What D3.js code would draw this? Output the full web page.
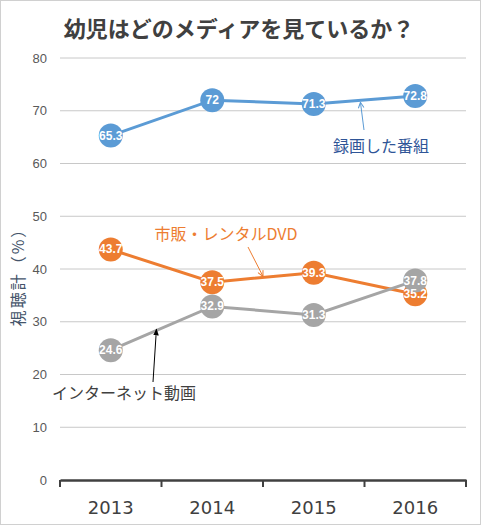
<!DOCTYPE html>
<html>
<head>
<meta charset="utf-8">
<script src="https://cdn.jsdelivr.net/npm/d3@7"></script>
<style>
  body { margin: 0; background: #fff; }
  svg { display: block; font-family: "Noto Sans CJK JP", "Noto Sans", sans-serif; }
</style>
</head>
<body>
<svg id="chart" width="481" height="525"></svg>
<script>
var years = ["2013", "2014", "2015", "2016"];
var recorded = [65.3, 72, 71.3, 72.8];
var dvd = [43.7, 37.5, 39.3, 35.2];
var internet = [24.6, 32.9, 31.3, 37.8];
var yTicks = [0, 10, 20, 30, 40, 50, 60, 70, 80];

var series = [
  { name: "録画した番組", values: recorded, color: "#5B9BD5" },
  { name: "市販・レンタルDVD", values: dvd, color: "#ED7D31" },
  { name: "インターネット動画", values: internet, color: "#A5A5A5" }
];

var svg = d3.select("#chart");
var plotL = 60, plotR = 466, plotT = 58, plotB = 480;

var x = d3.scaleBand().domain(years).range([plotL, plotR]);
var y = d3.scaleLinear().domain([0, 80]).range([plotB, plotT]);
var cx = function (i) { return x(years[i]) + x.bandwidth() / 2; };
// position between two categories, for the callout arrows
var between = function (i, f) { return cx(i) + f * (cx(i + 1) - cx(i)); };

// outer frame
svg.append("rect")
  .attr("x", 0.5).attr("y", 0.5)
  .attr("width", 480).attr("height", 524)
  .attr("fill", "#fff")
  .attr("stroke", "#d0d0d0");

// title
svg.append("text")
  .attr("x", 239).attr("y", 27)
  .attr("text-anchor", "middle")
  .attr("dominant-baseline", "central")
  .attr("font-size", 22)
  .attr("font-weight", "bold")
  .attr("fill", "#404040")
  .text("幼児はどのメディアを見ているか？");

// gridlines
svg.append("g").selectAll("line")
  .data(yTicks.filter(function (d) { return d > 0; }))
  .enter().append("line")
  .attr("x1", plotL).attr("x2", plotR)
  .attr("y1", function (d) { return y(d); })
  .attr("y2", function (d) { return y(d); })
  .attr("stroke", "#c8c8c8")
  .attr("stroke-width", 1);

// y axis labels
svg.append("g").selectAll("text")
  .data(yTicks)
  .enter().append("text")
  .attr("x", 47)
  .attr("y", function (d) { return y(d); })
  .attr("text-anchor", "end")
  .attr("dominant-baseline", "central")
  .attr("font-family", "Liberation Sans, sans-serif")
  .attr("font-size", 13)
  .attr("fill", "#595959")
  .text(function (d) { return d; });

// y title
svg.append("text")
  .attr("transform", "translate(17,273) rotate(-90)")
  .attr("text-anchor", "middle")
  .attr("dominant-baseline", "central")
  .attr("font-size", 16)
  .attr("letter-spacing", 2)
  .attr("fill", "#44546A")
  .text("視聴計（%）");

// x axis
var xAxis = svg.append("g")
  .attr("transform", "translate(0," + plotB + ")")
  .call(d3.axisBottom(x).tickSize(0).tickFormat(""));
xAxis.select(".domain").attr("stroke", "#404040").attr("stroke-width", 2.5);
xAxis.selectAll(".tick").remove();

var edges = d3.range(years.length + 1).map(function (i) { return plotL + i * x.bandwidth(); });
svg.append("g").selectAll("line")
  .data(edges)
  .enter().append("line")
  .attr("x1", function (d) { return d; }).attr("x2", function (d) { return d; })
  .attr("y1", plotB).attr("y2", plotB + 7)
  .attr("stroke", "#404040").attr("stroke-width", 2);

svg.append("g").selectAll("text")
  .data(years)
  .enter().append("text")
  .attr("x", function (d, i) { return cx(i); })
  .attr("y", 507)
  .attr("text-anchor", "middle")
  .attr("dominant-baseline", "central")
  .attr("font-family", "DejaVu Sans, sans-serif")
  .attr("font-size", 18)
  .attr("fill", "#404040")
  .text(function (d) { return d; });

// lines and markers
var line = d3.line()
  .x(function (d, i) { return cx(i); })
  .y(function (d) { return y(d); });

series.forEach(function (s) {
  svg.append("path")
    .datum(s.values)
    .attr("d", line)
    .attr("fill", "none")
    .attr("stroke", s.color)
    .attr("stroke-width", 3);
  svg.append("g").selectAll("circle")
    .data(s.values)
    .enter().append("circle")
    .attr("cx", function (d, i) { return cx(i); })
    .attr("cy", function (d) { return y(d); })
    .attr("r", 12)
    .attr("fill", s.color);
});

// data labels on top
series.forEach(function (s) {
  svg.append("g").selectAll("text")
    .data(s.values)
    .enter().append("text")
    .attr("x", function (d, i) { return cx(i); })
    .attr("y", function (d) { return y(d); })
    .attr("text-anchor", "middle")
    .attr("dominant-baseline", "central")
    .attr("font-family", "Liberation Sans Narrow, Liberation Sans, sans-serif")
    .attr("font-size", 12)
    .attr("font-weight", "bold")
    .attr("fill", "#fff")
    .text(function (d) { return d; });
});

// callouts
var defs = svg.append("defs");
function marker(id, color, open) {
  var m = defs.append("marker")
    .attr("id", id)
    .attr("viewBox", "0 0 10 10")
    .attr("refX", 9).attr("refY", 5)
    .attr("markerWidth", 7).attr("markerHeight", 7)
    .attr("orient", "auto");
  if (open) {
    m.append("path").attr("d", "M1,1 L9,5 L1,9")
      .attr("fill", "none").attr("stroke", color).attr("stroke-width", 1.5);
  } else {
    m.append("path").attr("d", "M0,1 L10,5 L0,9 Z").attr("fill", color);
  }
}
marker("arrBlue", "#5B9BD5", true);
marker("arrOrange", "#ED7D31", true);
marker("arrBlack", "#000", false);

var callouts = [
  { text: "録画した番組", color: "#2F5597", tx: 381, ty: 145, size: 16,
    from: [364, 130], to: [between(2, 0.46), y(71.6)], arrow: "arrBlue", stroke: "#5B9BD5" },
  { text: "市販・レンタルDVD", color: "#ED7D31", tx: 226, ty: 233, size: 16,
    from: [248, 247], to: [between(1, 0.5), y(38.6)], arrow: "arrOrange", stroke: "#ED7D31" },
  { text: "インターネット動画", color: "#404040", tx: 124, ty: 392, size: 16,
    from: [153, 382], to: [between(0, 0.45), y(28.6)], arrow: "arrBlack", stroke: "#000" }
];

callouts.forEach(function (c) {
  svg.append("line")
    .attr("x1", c.from[0]).attr("y1", c.from[1])
    .attr("x2", c.to[0]).attr("y2", c.to[1])
    .attr("stroke", c.stroke)
    .attr("stroke-width", 1)
    .attr("marker-end", "url(#" + c.arrow + ")");
  svg.append("text")
    .attr("x", c.tx).attr("y", c.ty)
    .attr("text-anchor", "middle")
    .attr("dominant-baseline", "central")
    .attr("font-size", c.size)
    .attr("fill", c.color)
    .text(c.text);
});
</script>
</body>
</html>
